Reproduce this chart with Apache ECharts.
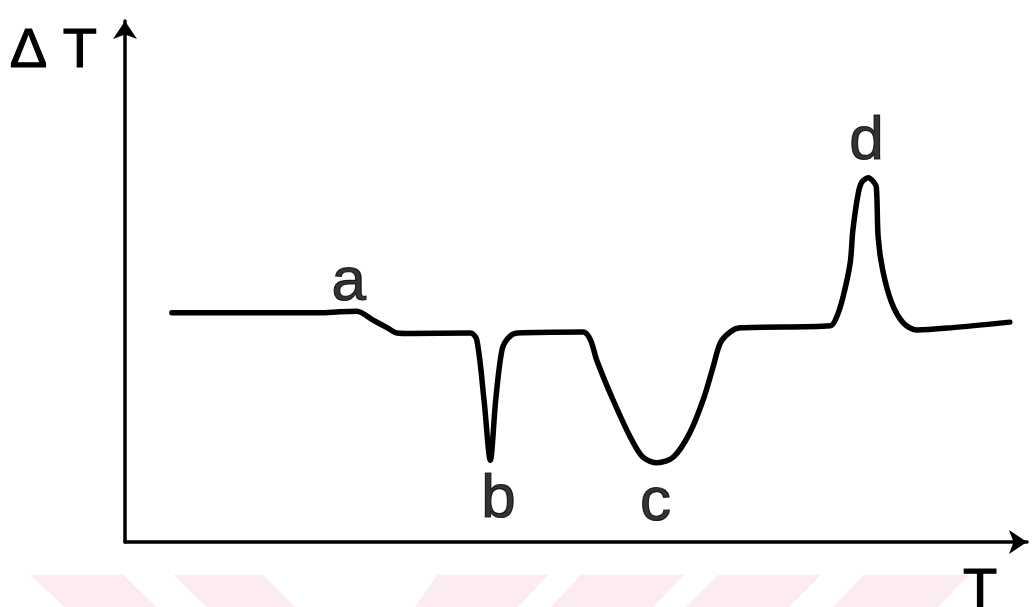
<!DOCTYPE html>
<html>
<head>
<meta charset="utf-8">
<script src="https://cdn.jsdelivr.net/npm/echarts@6/dist/echarts.min.js"></script>
<style>
  html, body { margin: 0; padding: 0; background: #ffffff; }
  #chart { width: 1036px; height: 607px; }
</style>
</head>
<body>
<div id="chart"></div>
<script>
// Differential thermal analysis trace: temperature T (arbitrary units, 0–100)
// against the temperature difference ΔT (arbitrary units, 0–100).
const temperature = [
  5.2, 21.6, 23.8, 25.7, 27.5, 29.1, 30.2, 31.6, 38.3, 39.0, 39.8, 40.5,
  41.1, 41.8, 42.5, 43.5, 50.8, 51.6, 52.3, 54.1, 56.0, 57.4, 59.0, 60.8,
  62.6, 64.1, 65.2, 66.0, 67.1, 68.2, 78.2, 78.9, 79.6, 80.4, 80.7, 81.3,
  81.7, 82.4, 83.0, 83.3, 83.5, 84.0, 85.0, 86.3, 87.8, 91.5, 98.1
];
const deltaT = [
  44.0, 44.0, 44.2, 44.3, 42.6, 41.1, 40.1, 40.0, 40.1, 38.8, 27.3, 15.7,
  27.3, 36.9, 39.2, 40.1, 40.3, 38.8, 34.9, 27.3, 20.2, 16.3, 15.2, 16.3,
  20.9, 27.3, 33.6, 38.2, 40.3, 41.1, 41.5, 43.2, 47.0, 53.6, 59.9, 67.0,
  69.1, 69.9, 69.1, 68.1, 58.5, 52.2, 45.9, 42.0, 40.7, 41.1, 42.2
];

// Letters naming the thermal events, and where each letter sits
const eventNames = ['a', 'b', 'c', 'd'];
const eventTemp = [24.8, 41.4, 58.8, 82.2];
const eventLabelLevel = [49.7, 8.1, 7.5, 76.8];

const curve = temperature.map((t, i) => [t, deltaT[i]]);
const events = eventNames.map((n, i) => ({ name: n, value: [eventTemp[i], eventLabelLevel[i]] }));

const ink = '#000000';
const handFont = '"Liberation Sans", "DejaVu Sans", sans-serif';

// Pale diagonal bands along the bottom edge
const bandColor = '#fdecef';
const bands = [
  [[30, 575], [123, 575], [157, 607], [65, 607]],
  [[173, 575], [263, 575], [295, 607], [207, 607]],
  [[437, 575], [548, 575], [518, 607], [415, 607]],
  [[581, 575], [684, 575], [653, 607], [551, 607]],
  [[718, 575], [821, 575], [789, 607], [686, 607]],
  [[864, 575], [969, 575], [938, 607], [833, 607]]
];

// Shared look of the hand-lettered text
const letterStyle = {
  color: ink,
  fontFamily: handFont,
  textBorderColor: ink,
  textBorderWidth: 1.2
};

const chart = echarts.init(document.getElementById('chart'), null, { renderer: 'canvas' });

chart.setOption({
  backgroundColor: '#ffffff',
  animation: false,
  graphic: bands.map(pts => ({
    type: 'polygon',
    z: -10,
    silent: true,
    shape: { points: pts },
    style: { fill: bandColor }
  })),
  grid: {
    left: 125, right: 9, top: 21, bottom: 65,
    containLabel: false,
    outerBoundsMode: 'none'
  },
  xAxis: {
    type: 'value',
    min: 0,
    max: 100,
    name: 'T',
    nameLocation: 'end',
    nameGap: -47,
    nameTextStyle: Object.assign({}, letterStyle, {
      fontSize: 56, align: 'center', verticalAlign: 'top', padding: [22, 0, 0, 0]
    }),
    axisLine: {
      show: true,
      symbol: ['none', 'arrow'],
      symbolSize: [18, 18],
      lineStyle: { color: ink, width: 3.5 }
    },
    axisTick: { show: false },
    axisLabel: { show: false },
    splitLine: { show: false }
  },
  yAxis: {
    type: 'value',
    min: 0,
    max: 100,
    name: 'Δ T',
    nameLocation: 'end',
    nameGap: -31,
    nameTextStyle: Object.assign({}, letterStyle, {
      fontSize: 56, align: 'right', verticalAlign: 'middle', padding: [0, 28, 0, 0]
    }),
    axisLine: {
      show: true,
      symbol: ['none', 'arrow'],
      symbolSize: [18, 18],
      lineStyle: { color: ink, width: 3.5 }
    },
    axisTick: { show: false },
    axisLabel: { show: false },
    splitLine: { show: false }
  },
  series: [
    {
      type: 'line',
      data: curve,
      smooth: 0.3,
      showSymbol: false,
      silent: true,
      lineStyle: { color: ink, width: 5.5, cap: 'round', join: 'round' }
    },
    {
      type: 'scatter',
      data: events,
      symbolSize: 1,
      itemStyle: { color: 'rgba(0,0,0,0)' },
      silent: true,
      label: Object.assign({}, letterStyle, {
        show: true,
        position: 'inside',
        formatter: p => p.name,
        fontSize: 62
      })
    }
  ]
});
</script>
</body>
</html>
